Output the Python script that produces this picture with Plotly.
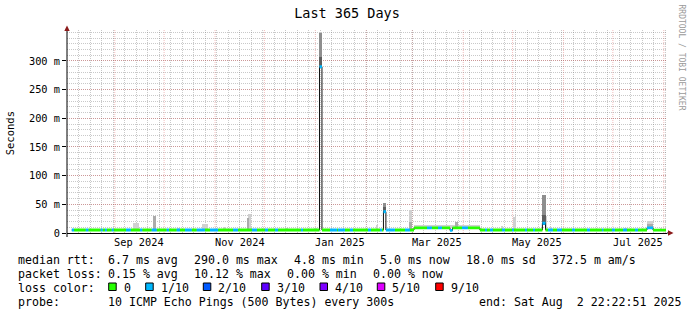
import pandas as pd
import plotly.graph_objects as go

# ---------------- data ----------------
START = "2024-08-02 22:22:51"
END = "2025-08-02 22:22:51"

# median rtt, stored as runs: start (days after START), median (ms), loss (pings lost of 10)
run_start_day = [2.9, 4.3, 11.4, 13.0, 20.5, 21.7, 23.1, 24.2, 27.2, 28.4,
                 35.9, 38.8, 44.4, 45.8, 51.5, 54.6, 60.6, 62.0, 66.7, 68.7,
                 71.8, 75.9, 78.9, 83.9, 87.0, 91.9, 101.0, 104.0, 112.5, 115.6,
                 120.4, 122.3, 126.5, 128.4, 142.3, 143.6, 153.6, 155.1, 160.0, 164.2,
                 164.8, 169.1, 172.1, 174.0, 183.1, 184.9, 190.4, 191.6, 192.5, 194.0,
                 199.5, 205.6, 208.6, 211.1, 219.0, 222.0, 225.7, 228.1, 233.0, 234.5,
                 240.3, 243.9, 251.2, 254.3, 255.5, 257.3, 259.1, 264.6, 266.4, 270.7,
                 271.9, 278.6, 279.8, 283.5, 284.7, 289.2, 291.1, 292.6, 295.6, 298.1,
                 301.1, 307.2, 309.0, 316.3, 318.1, 325.4, 326.3, 331.5, 333.3, 338.2,
                 340.6, 345.5, 347.3, 352.8, 356.5]
run_end_day = 364.4
run_median_ms = [5.2, 5.2, 5.2, 5.2, 5.2, 5.2, 5.2, 5.2, 5.2, 5.2,
                 5.2, 5.2, 5.2, 5.2, 5.2, 5.2, 5.2, 5.2, 5.2, 5.2,
                 5.2, 5.2, 5.2, 5.2, 5.2, 5.2, 5.2, 5.2, 5.2, 5.2,
                 5.2, 5.2, 5.2, 5.2, 5.2, 5.2, 290.0, 5.2, 5.2, 5.2,
                 5.2, 5.2, 5.2, 5.2, 5.2, 5.2, 5.2, 5.2, 37.0, 5.2,
                 5.2, 5.2, 5.2, 9.0, 9.0, 9.0, 9.0, 9.0, 4.5, 9.0,
                 9.0, 9.0, 5.2, 5.2, 5.2, 5.2, 5.2, 5.2, 5.2, 5.2,
                 5.2, 5.2, 5.2, 5.2, 5.2, 17.0, 5.2, 5.2, 5.2, 5.2,
                 5.2, 5.2, 5.2, 5.2, 5.2, 5.2, 5.2, 5.2, 5.2, 5.2,
                 5.2, 5.2, 5.2, 9.0, 5.0]
run_loss = [1, 0, 1, 0, 1, 0, 1, 0, 1, 0,
            1, 0, 1, 0, 1, 0, 1, 0, 1, 0,
            1, 0, 1, 0, 1, 0, 1, 0, 1, 0,
            1, 0, 1, 0, 1, 0, 1, 0, 1, 0,
            1, 0, 1, 0, 1, 0, 1, 0, 1, 1,
            0, 1, 0, 0, 1, 0, 1, 0, 1, 0,
            1, 0, 0, 1, 0, 1, 0, 1, 0, 1,
            0, 1, 0, 1, 0, 1, 0, 1, 0, 1,
            0, 1, 0, 1, 0, 1, 0, 1, 0, 1,
            0, 1, 0, 1, 0]

# smoke (ping spread): start/end day, low/high ms, shade (0 light .. 3 dark)
smoke_start = [40.1, 52.9, 67.5, 82.1, 95.5, 110.1, 110.1, 133.2, 150.2, 153.6,
               153.6, 188.4, 192.5, 192.5, 208.6, 208.6, 211.1, 236.6, 264.3, 271.3,
               289.2, 289.2, 291.1, 294.4, 339.4, 352.8, 352.8, 361.2]
smoke_end = [43.8, 54.1, 68.7, 85.8, 96.7, 111.9, 110.7, 134.4, 152.1, 155.1,
             155.1, 189.2, 194.0, 194.0, 209.7, 209.7, 251.2, 237.8, 265.0, 273.1,
             291.1, 291.1, 292.3, 295.2, 340.6, 356.5, 356.5, 362.2]
smoke_lo = [5, 5, 5, 5, 5, 5, 5, 5, 5, 292,
            292, 5, 37, 37, 5, 5, 9, 9, 5, 5,
            14, 14, 5, 5, 5, 8, 8, 5]
smoke_hi = [17, 30, 8, 15, 10, 33, 26, 9, 8, 348,
            307, 14, 52, 45, 40, 20, 14, 19, 12, 28,
            66, 32, 30, 10, 9, 21, 15, 8]
smoke_shade = [0, 1, 0, 0, 0, 0, 1, 0, 0, 2,
               3, 0, 2, 3, 0, 1, 0, 1, 0, 0,
               2, 3, 0, 0, 0, 0, 1, 0]

y_tick_vals = [0, 50, 100, 150, 200, 250, 300]
y_tick_text = ["0", "50 m", "100 m", "150 m", "200 m", "250 m", "300 m"]
x_label_dates = ["2024-09-16", "2024-11-16", "2025-01-16", "2025-03-16", "2025-05-16", "2025-07-16"]
x_label_text = ["Sep 2024", "Nov 2024", "Jan 2025", "Mar 2025", "May 2025", "Jul 2025"]

loss_levels = [0, 1, 2, 3, 4, 5, 9]
loss_labels = ["0", "1/10", "2/10", "3/10", "4/10", "5/10", "9/10"]
loss_colors = ["#26ff00", "#00b8ff", "#0059ff", "#5e00ff", "#7e00ff", "#dd00ff", "#ff0000"]

stats_rtt = ["median rtt:", "6.7 ms avg", "290.0 ms max", "4.8 ms min", "5.0 ms now", "18.0 ms sd", "372.5 m am/s"]
stats_loss = ["packet loss:", "0.15 % avg", "10.12 % max", "0.00 % min", "0.00 % now"]
probe_text = ["probe:", "10 ICMP Echo Pings (500 Bytes) every 300s", "end: Sat Aug \u00a02 22:22:51 2025"]

# ---------------- layout helpers ----------------
W, H = 697, 315
PL, PR, PT, PB = 67, 667, 30, 233
MONO = "DejaVu Sans Mono"


def px(xp):
    return (xp - PL) / (PR - PL)


def py(yp):
    return (PB - yp) / (PB - PT)


start_ts = pd.Timestamp(START)
end_ts = pd.Timestamp(END)


def ts(d):
    return start_ts + pd.to_timedelta(d, unit="D")


DAY_MS = 86400000
SHADES = ["#d0d0d0", "#ababab", "#8e8e8e", "#5e5e5e"]
color_of = dict(zip(loss_levels, loss_colors))

fig = go.Figure()

# smoke
for sh in range(len(SHADES)):
    idx = [i for i, s in enumerate(smoke_shade) if s == sh]
    if not idx:
        continue
    fig.add_trace(go.Bar(
        x=[ts((smoke_start[i] + smoke_end[i]) / 2) for i in idx],
        y=[smoke_hi[i] - smoke_lo[i] for i in idx],
        base=[smoke_lo[i] for i in idx],
        width=[(smoke_end[i] - smoke_start[i]) * DAY_MS for i in idx],
        marker=dict(color=SHADES[sh], line=dict(width=0)),
        hoverinfo="skip", showlegend=False))

# median line
fig.add_trace(go.Scatter(
    x=[ts(d) for d in run_start_day] + [ts(run_end_day)],
    y=run_median_ms + [run_median_ms[-1]],
    mode="lines", line=dict(color="#101010", width=1, shape="hv"),
    hoverinfo="skip", showlegend=False))

# median band coloured by loss
HALF = 2.5
run_ends = run_start_day[1:] + [run_end_day]
for lv in sorted(set(run_loss)):
    xs, ys = [], []
    for s, e, m, l in zip(run_start_day, run_ends, run_median_ms, run_loss):
        if l != lv:
            continue
        x0, x1 = ts(s), ts(e)
        xs += [x0, x1, x1, x0, x0, None]
        ys += [m - HALF, m - HALF, m + HALF, m + HALF, m - HALF, None]
    fig.add_trace(go.Scatter(x=xs, y=ys, mode="lines", fill="toself",
                             fillcolor=color_of[lv], line=dict(width=0),
                             hoverinfo="skip", showlegend=False))

annotations = []
# x labels (centred mid-month)
for d, t in zip(x_label_dates, x_label_text):
    annotations.append(dict(x=d, xref="x", y=py(241.5), yref="paper", text=t,
                            showarrow=False, xanchor="center", yanchor="middle",
                            font=dict(family=MONO, size=10.3, color="#000")))
# y title
annotations.append(dict(x=px(10.3), xref="paper", y=py(133), yref="paper", text="Seconds",
                        textangle=-90, showarrow=False, xanchor="center", yanchor="middle",
                        font=dict(family=MONO, size=10.5, color="#000")))
# credit
annotations.append(dict(x=px(681), xref="paper", y=py(57.5), yref="paper",
                        text="RRDTOOL / TOBI OETIKER", textangle=90, showarrow=False,
                        xanchor="center", yanchor="middle",
                        font=dict(family=MONO, size=8, color="#9a9a9a")))

LF = dict(family=MONO, size=11.6, color="#000")


def legend_text(xp, yp, text):
    annotations.append(dict(x=px(xp - 1.5), xref="paper", y=py(yp), yref="paper", text=text,
                            showarrow=False, xanchor="left", yanchor="middle", font=LF))


for xp, t in zip([17, 107.3, 193.3, 293.3, 379.3, 465, 551.7], stats_rtt):
    legend_text(xp, 259.5, t)
for xp, t in zip([17, 107.3, 193.3, 286.7, 372.7], stats_loss):
    legend_text(xp, 273.5, t)
legend_text(17, 287.5, "loss color:")
for xp, t in zip([17, 107.3, 478.3], probe_text):
    legend_text(xp, 301.5, t)

MGRID = "rgba(210,60,60,0.34)"
GRID = "rgba(120,120,120,0.40)"

shapes = []
# monthly major grid (red dotted), drawn between grid and traces
for m in pd.date_range("2024-09-01", "2025-08-01", freq="MS"):
    shapes.append(dict(type="line", xref="x", yref="paper", x0=m, x1=m, y0=0, y1=1,
                       layer="between", line=dict(color=MGRID, width=1, dash="1px,1px")))

box_x = [108.7, 145.7, 203.3, 261.7, 320, 377.3, 435.7]
for bx, lab, col in zip(box_x, loss_labels, loss_colors):
    shapes.append(dict(type="rect", xref="paper", yref="paper",
                       x0=px(bx), x1=px(bx + 7.5), y0=py(290.5), y1=py(283),
                       line=dict(color="#000", width=1), fillcolor=col))
    legend_text(bx + 14.5, 287.5, lab)

# axis arrows / extensions
ARROW = "#8b1a1a"
shapes.append(dict(type="line", xref="paper", yref="paper", x0=px(67), x1=px(67),
                   y0=py(233), y1=py(28), line=dict(color="#000", width=1)))
shapes.append(dict(type="line", xref="paper", yref="paper", x0=px(67), x1=px(67),
                   y0=py(237), y1=py(233), line=dict(color="#000", width=1)))
shapes.append(dict(type="line", xref="paper", yref="paper", x0=px(667), x1=px(669),
                   y0=py(233), y1=py(233), line=dict(color="#000", width=1)))
shapes.append(dict(type="path", xref="paper", yref="paper",
                   path=f"M {px(67)} {py(25.5)} L {px(64.3)} {py(31)} L {px(69.7)} {py(31)} Z",
                   fillcolor=ARROW, line=dict(width=0)))
shapes.append(dict(type="path", xref="paper", yref="paper",
                   path=f"M {px(673.5)} {py(233)} L {px(668)} {py(230.3)} L {px(668)} {py(235.7)} Z",
                   fillcolor=ARROW, line=dict(width=0)))

fig.update_layout(
    width=W, height=H,
    margin=dict(l=PL, r=W - PR, t=PT, b=H - PB, pad=0),
    paper_bgcolor="#ffffff", plot_bgcolor="#ffffff",
    barmode="overlay", bargap=0, showlegend=False, hovermode=False,
    title=dict(text="Last 365 Days", x=347 / W, xanchor="center", xref="container",
               y=1 - 13.5 / H, yanchor="middle", yref="container",
               font=dict(family=MONO, size=13.5, color="#000")),
    xaxis=dict(type="date", range=[start_ts, end_ts], showticklabels=False, ticks="",
               showgrid=True, gridcolor=GRID, gridwidth=1, griddash="1px,1px",
               dtick=7 * DAY_MS, tick0="2024-08-17",
               showline=True, linecolor="#000", linewidth=1, zeroline=False, fixedrange=True),
    yaxis=dict(range=[0, 354], tickmode="array", tickvals=y_tick_vals, ticktext=y_tick_text,
               ticks="outside", ticklen=4, tickcolor="#000", tickwidth=1,
               tickfont=dict(family=MONO, size=10.3, color="#000"),
               showgrid=True, gridcolor=MGRID, gridwidth=1, griddash="1px,1px",
               minor=dict(dtick=10, showgrid=True, gridcolor=GRID, gridwidth=1, griddash="1px,1px"),
               showline=False, zeroline=False, fixedrange=True),
    annotations=annotations, shapes=shapes,
)

fig.write_html("out.html", config={"displayModeBar": False})
